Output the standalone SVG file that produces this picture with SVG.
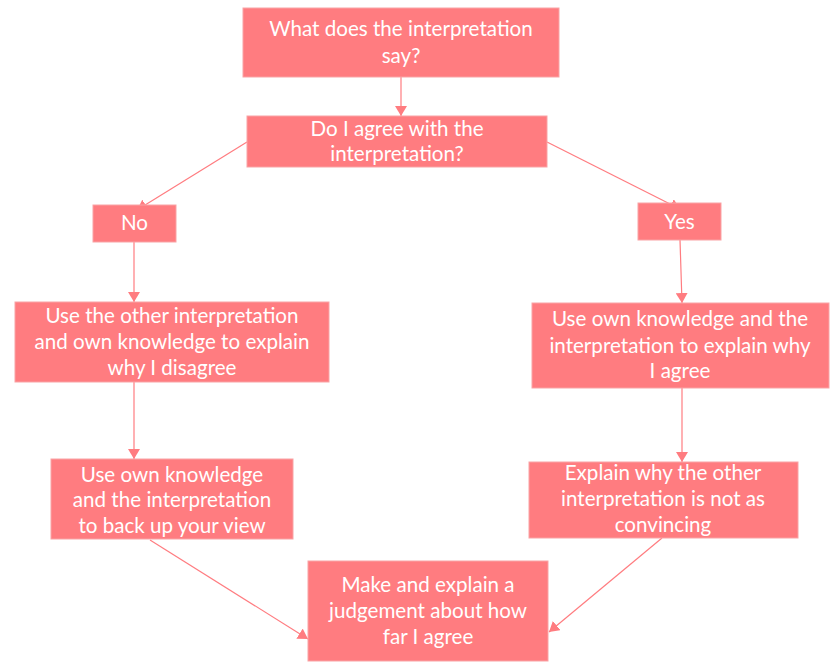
<svg xmlns="http://www.w3.org/2000/svg" width="830" height="662" viewBox="0 0 830 662">
<style>
.box{fill:#FF7C80;stroke:#F9A3A5;stroke-width:1}
.t{font-family:Lato,"Open Sans","Liberation Sans",sans-serif;font-size:20.6px;fill:#FFFFFF;text-anchor:middle}
.c{stroke:#FF7C80;stroke-width:1.2;fill:none;marker-end:url(#ah)}
</style>
<defs>
<marker id="ah" markerWidth="12" markerHeight="12" refX="10" refY="6" orient="auto" markerUnits="userSpaceOnUse">
<path d="M0,0 L10,6 L0,12 z" fill="#FF7C80"/>
</marker>
</defs>
<rect width="830" height="662" fill="#FFFFFF"/>
<g id="connectors">
<line class="c" x1="401" y1="77" x2="401" y2="116"/>
<line class="c" x1="247" y1="142" x2="137" y2="210"/>
<line class="c" x1="547" y1="142" x2="680" y2="209"/>
<line class="c" x1="134" y1="242" x2="134" y2="302"/>
<line class="c" x1="680" y1="240" x2="682" y2="303"/>
<line class="c" x1="134" y1="382" x2="134" y2="459"/>
<line class="c" x1="682" y1="388" x2="682" y2="462"/>
<line class="c" x1="150" y1="540" x2="308" y2="639"/>
<line class="c" x1="662" y1="538" x2="549" y2="632"/>
</g>
<g id="n1"><rect class="box" x="243" y="8" width="316" height="69"/>
<text class="t" x="401" y="36">What does the interpretation</text><text class="t" x="401" y="63">say?</text></g>
<g id="n2"><rect class="box" x="247" y="116" width="300" height="51"/>
<text class="t" x="397" y="136">Do I agree with the</text><text class="t" x="397" y="161">interpretation?</text></g>
<g id="no"><rect class="box" x="93" y="205" width="83" height="37"/>
<text class="t" x="134.5" y="230">No</text></g>
<g id="yes"><rect class="box" x="638" y="203" width="83" height="37"/>
<text class="t" x="679.5" y="229">Yes</text></g>
<g id="left1"><rect class="box" x="15" y="302" width="314" height="80"/>
<text class="t" x="172" y="323">Use the other interpretation</text><text class="t" x="172" y="349">and own knowledge to explain</text><text class="t" x="172" y="375">why I disagree</text></g>
<g id="left2"><rect class="box" x="51" y="459" width="242" height="80"/>
<text class="t" x="172" y="482">Use own knowledge</text><text class="t" x="172" y="507">and the interpretation</text><text class="t" x="172" y="533">to back up your view</text></g>
<g id="right1"><rect class="box" x="532" y="303" width="297" height="85"/>
<text class="t" x="680" y="326">Use own knowledge and the</text><text class="t" x="680" y="353">interpretation to explain why</text><text class="t" x="680" y="378">I agree</text></g>
<g id="right2"><rect class="box" x="529" y="462" width="269" height="76"/>
<text class="t" x="663" y="480">Explain why the other</text><text class="t" x="663" y="506">interpretation is not as</text><text class="t" x="663" y="532">convincing</text></g>
<g id="bottom"><rect class="box" x="308" y="561" width="240" height="100"/>
<text class="t" x="428" y="592">Make and explain a</text><text class="t" x="428" y="618">judgement about how</text><text class="t" x="428" y="644">far I agree</text></g>
</svg>
